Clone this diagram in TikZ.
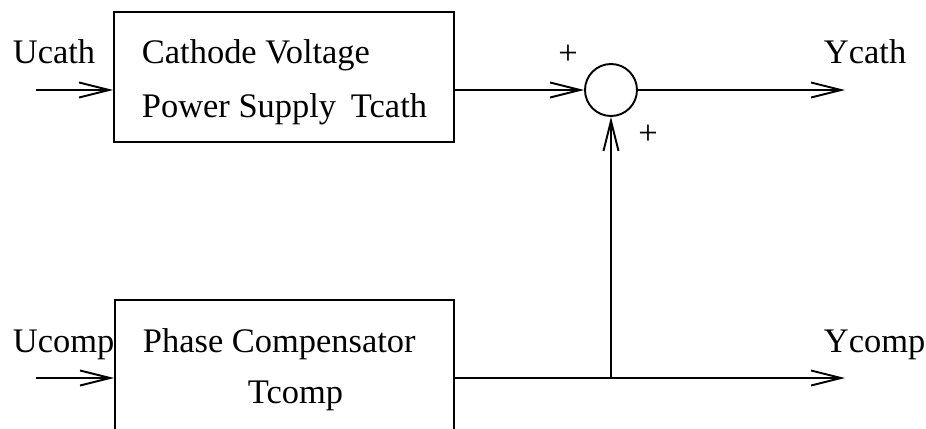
\documentclass[tikz,border=0pt]{standalone}
\usepackage{fontspec}
\setmainfont{Liberation Serif}
\usetikzlibrary{arrows.meta}
\begin{document}
\begin{tikzpicture}[line width=1.1pt,
  sig/.style={-{Straight Barb[length=0.6cm,width=0.3cm,line width=1.1pt]}},
  blk/.style={draw,rectangle,inner sep=0pt},
  lbl/.style={anchor=base west,inner sep=0pt,font=\fontsize{19.6}{23.5}\selectfont},
  sgn/.style={inner sep=0pt,font=\fontsize{19.6}{23.5}\selectfont}]

\clip (0,0) rectangle (18.52,8.56);

\node[blk,minimum width=6.8cm,minimum height=2.6cm] (cathps) at (5.68,7.02) {};
\node[blk,minimum width=6.78cm,minimum height=2.96cm] (comp) at (5.69,1.08) {};
\node[draw,circle,minimum size=1.04cm,inner sep=0pt] (sum) at (12.22,6.76) {};

\coordinate (ucin) at (0.72,6.76);
\coordinate (ycout) at (16.9,6.76);
\coordinate (upin) at (0.72,1.0);
\coordinate (ypout) at (16.9,1.0);
\coordinate (tap) at (12.22,1.0);

\draw[sig] (ucin) -- (ucin -| cathps.west);
\draw[sig] (cathps.east |- sum) -- (sum.west);
\draw[sig] (sum.east) -- (ycout);
\draw[sig] (upin) -- (upin -| comp.west);
\draw[sig] (comp.east |- ypout) -- (ypout);
\draw[sig] (tap) -- (sum.south);

\node[lbl] (ucath) at (0.24,7.3) {Ucath};
\node[lbl] (cathl1) at (2.82,7.3) {Cathode Voltage};
\node[lbl] (cathl2) at (2.82,6.22) {Power Supply\hspace{0.43em}Tcath};
\node[lbl] (ycath) at (16.46,7.3) {Ycath};
\node[sgn] (plusa) at (11.36,7.46) {+};
\node[sgn] (plusb) at (12.96,5.86) {+};

\node[lbl] (ucomp) at (0.24,1.52) {Ucomp};
\node[lbl] (compl1) at (2.84,1.52) {Phase Compensator};
\node[lbl] (compl2) at (4.94,0.5) {Tcomp};
\node[lbl] (ycomp) at (16.46,1.52) {Ycomp};

\end{tikzpicture}
\end{document}
